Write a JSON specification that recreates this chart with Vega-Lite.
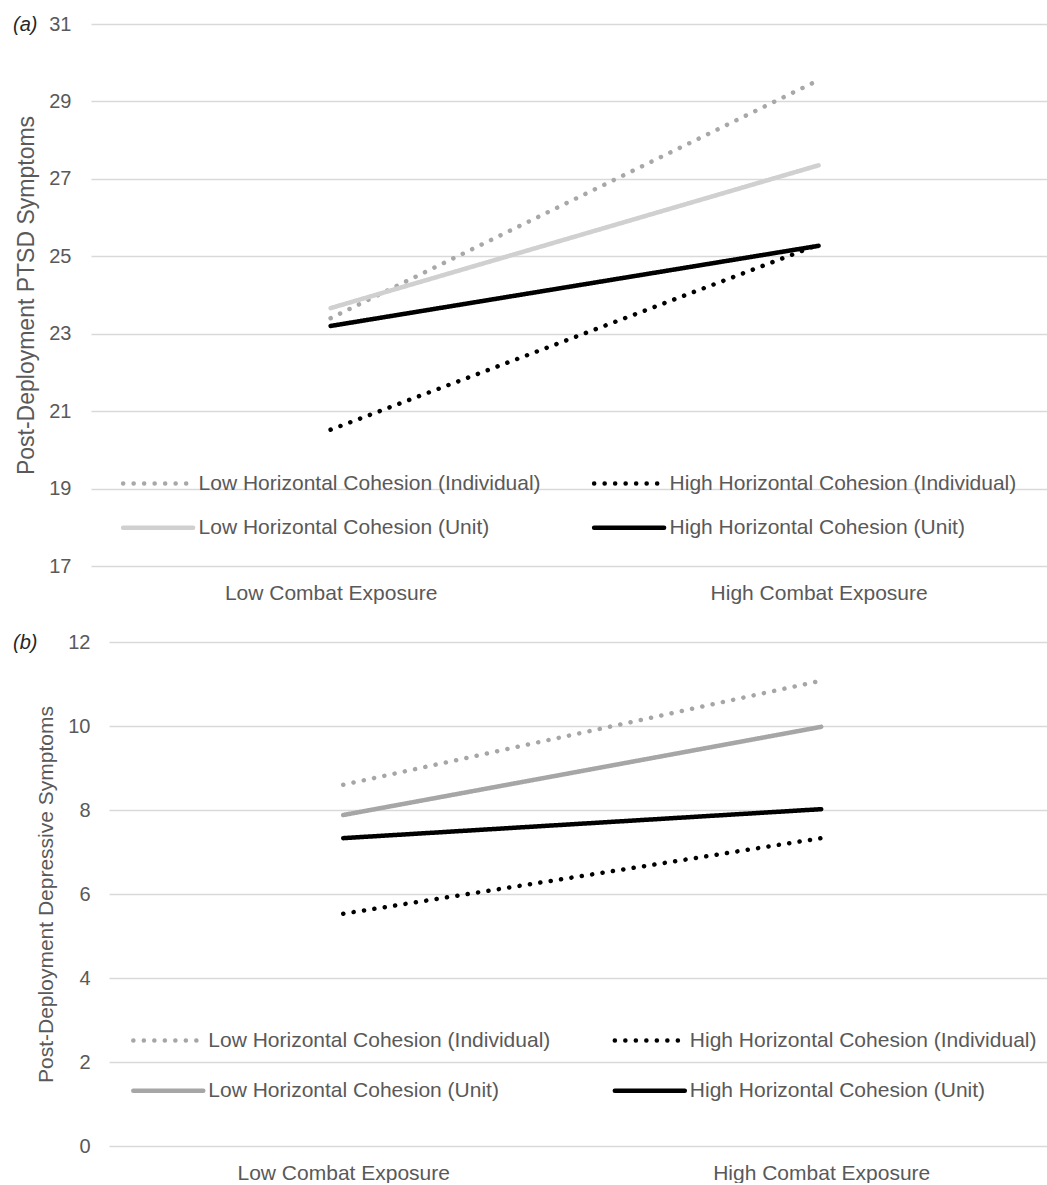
{
  "$schema": "https://vega.github.io/schema/vega-lite/v6.json",
  "padding": {"left": 12, "top": 14, "right": 0, "bottom": 0},
  "spacing": 29,
  "center": true,
  "config": {
    "view": {"stroke": null},
    "font": "Liberation Sans",
    "axis": {
      "domain": false,
      "ticks": false,
      "tickSize": 0,
      "labelColor": "#595959",
      "titleColor": "#595959",
      "labelFont": "Liberation Sans",
      "titleFont": "Liberation Sans",
      "titleFontWeight": "normal",
      "gridColor": "#d9d9d9",
      "gridWidth": 1.5
    }
  },
  "datasets": {
    "ptsd": [
      {"exposure": "Low Combat Exposure", "series": "Low Horizontal Cohesion (Individual)", "value": 23.4},
      {"exposure": "High Combat Exposure", "series": "Low Horizontal Cohesion (Individual)", "value": 29.55},
      {"exposure": "Low Combat Exposure", "series": "High Horizontal Cohesion (Individual)", "value": 20.52},
      {"exposure": "High Combat Exposure", "series": "High Horizontal Cohesion (Individual)", "value": 25.3},
      {"exposure": "Low Combat Exposure", "series": "Low Horizontal Cohesion (Unit)", "value": 23.66},
      {"exposure": "High Combat Exposure", "series": "Low Horizontal Cohesion (Unit)", "value": 27.35},
      {"exposure": "Low Combat Exposure", "series": "High Horizontal Cohesion (Unit)", "value": 23.2},
      {"exposure": "High Combat Exposure", "series": "High Horizontal Cohesion (Unit)", "value": 25.27}
    ],
    "dep": [
      {"exposure": "Low Combat Exposure", "series": "Low Horizontal Cohesion (Individual)", "value": 8.6},
      {"exposure": "High Combat Exposure", "series": "Low Horizontal Cohesion (Individual)", "value": 11.08},
      {"exposure": "Low Combat Exposure", "series": "High Horizontal Cohesion (Individual)", "value": 5.53},
      {"exposure": "High Combat Exposure", "series": "High Horizontal Cohesion (Individual)", "value": 7.33},
      {"exposure": "Low Combat Exposure", "series": "Low Horizontal Cohesion (Unit)", "value": 7.88},
      {"exposure": "High Combat Exposure", "series": "Low Horizontal Cohesion (Unit)", "value": 9.98},
      {"exposure": "Low Combat Exposure", "series": "High Horizontal Cohesion (Unit)", "value": 7.33},
      {"exposure": "High Combat Exposure", "series": "High Horizontal Cohesion (Unit)", "value": 8.02}
    ]
  },
  "vconcat": [
    {
      "width": 992,
      "height": 542,
      "data": {"name": "ptsd"},
      "encoding": {
        "x": {"field": "exposure", "type": "nominal", "sort": ["Low Combat Exposure", "High Combat Exposure"], "scale": {"type": "point", "padding": 0.5164, "align": 0.4754}, "axis": {"title": null, "labelAngle": 0, "labelFontSize": 21, "labelPadding": 16, "labelLimit": 600, "grid": false}},
        "color": {"field": "series", "type": "nominal",
          "scale": {"domain": ["Low Horizontal Cohesion (Individual)", "Low Horizontal Cohesion (Unit)", "High Horizontal Cohesion (Individual)", "High Horizontal Cohesion (Unit)"], "range": ["#a8a8a8", "#d0d0d0", "#000000", "#000000"]},
          "legend": {"orient": "none", "legendX": 54.6, "legendY": 446.75, "columns": 2, "title": null, "symbolType": "M-3.5,0H3.5", "symbolSize": 400, "symbolStrokeWidth": 4.5, "labelFontSize": 21, "labelColor": "#595959", "labelFont": "Liberation Sans", "labelOffset": 28, "columnPadding": 43, "rowPadding": 21.5, "labelLimit": 600, "padding": 0, "encode": {"symbols": {"update": {"strokeCap": {"value": "round"}}}}}},
        "strokeDash": {"field": "series", "type": "nominal",
          "scale": {"domain": ["Low Horizontal Cohesion (Individual)", "Low Horizontal Cohesion (Unit)", "High Horizontal Cohesion (Individual)", "High Horizontal Cohesion (Unit)"], "range": [[0.1, 10.4], [1, 0], [0.1, 10.4], [1, 0]]},
          "legend": {"orient": "none", "legendX": 54.6, "legendY": 446.75, "columns": 2, "title": null, "symbolType": "M-3.5,0H3.5", "symbolSize": 400, "symbolStrokeWidth": 4.5, "labelFontSize": 21, "labelColor": "#595959", "labelFont": "Liberation Sans", "labelOffset": 28, "columnPadding": 43, "rowPadding": 21.5, "labelLimit": 600, "padding": 0, "encode": {"symbols": {"update": {"strokeCap": {"value": "round"}}}}}}
      },
      "layer": [
        {
          "transform": [{"filter": "indexof(datum.series, 'Individual') >= 0"}],
          "mark": {"type": "line", "strokeWidth": 4.5, "strokeCap": "round"},
          "encoding": {
            "y": {"field": "value", "type": "quantitative", "scale": {"domain": [17, 31], "nice": false, "zero": false}, "axis": {"orient": "left", "values": [17, 19, 21, 23, 25, 27, 29, 31], "title": "Post-Deployment PTSD Symptoms", "titleFontSize": 23, "labelFontSize": 20, "labelPadding": 20, "titlePadding": 10, "grid": true}}
          }
        },
        {
          "transform": [{"filter": "indexof(datum.series, 'Unit') >= 0"}],
          "mark": {"type": "line", "strokeWidth": 4.5, "strokeCap": "round"},
          "encoding": {
            "y": {"field": "value", "type": "quantitative", "scale": {"domain": [17, 31], "nice": false, "zero": false}, "axis": {"orient": "left", "values": [31], "labelExpr": "'(a)'", "title": null, "grid": false, "labelFontSize": 20, "labelFontStyle": "italic", "labelColor": "#262626", "labelPadding": 54}}
          }
        }
      ],
      "resolve": {"scale": {"y": "independent"}, "axis": {"y": "independent"}}
    },
    {
      "width": 956,
      "height": 504,
      "data": {"name": "dep"},
      "encoding": {
        "x": {"field": "exposure", "type": "nominal", "sort": ["Low Combat Exposure", "High Combat Exposure"], "scale": {"type": "point", "padding": 0.5, "align": 0.49}, "axis": {"title": null, "labelAngle": 0, "labelFontSize": 21, "labelPadding": 16, "labelLimit": 600, "grid": false}},
        "color": {"field": "series", "type": "nominal",
          "scale": {"domain": ["Low Horizontal Cohesion (Individual)", "Low Horizontal Cohesion (Unit)", "High Horizontal Cohesion (Individual)", "High Horizontal Cohesion (Unit)"], "range": ["#a6a6a6", "#a6a6a6", "#000000", "#000000"]},
          "legend": {"orient": "none", "legendX": 46.8, "legendY": 385.75, "columns": 2, "title": null, "symbolType": "M-3.5,0H3.5", "symbolSize": 400, "symbolStrokeWidth": 4.5, "labelFontSize": 21, "labelColor": "#595959", "labelFont": "Liberation Sans", "labelOffset": 27.5, "columnPadding": 54.5, "rowPadding": 27.5, "labelLimit": 600, "padding": 0, "encode": {"symbols": {"update": {"strokeCap": {"value": "round"}}}}}},
        "strokeDash": {"field": "series", "type": "nominal",
          "scale": {"domain": ["Low Horizontal Cohesion (Individual)", "Low Horizontal Cohesion (Unit)", "High Horizontal Cohesion (Individual)", "High Horizontal Cohesion (Unit)"], "range": [[0.1, 10.4], [1, 0], [0.1, 10.4], [1, 0]]},
          "legend": {"orient": "none", "legendX": 46.8, "legendY": 385.75, "columns": 2, "title": null, "symbolType": "M-3.5,0H3.5", "symbolSize": 400, "symbolStrokeWidth": 4.5, "labelFontSize": 21, "labelColor": "#595959", "labelFont": "Liberation Sans", "labelOffset": 27.5, "columnPadding": 54.5, "rowPadding": 27.5, "labelLimit": 600, "padding": 0, "encode": {"symbols": {"update": {"strokeCap": {"value": "round"}}}}}}
      },
      "layer": [
        {
          "transform": [{"filter": "indexof(datum.series, 'Individual') >= 0"}],
          "mark": {"type": "line", "strokeWidth": 4.5, "strokeCap": "round"},
          "encoding": {
            "y": {"field": "value", "type": "quantitative", "scale": {"domain": [0, 12], "nice": false}, "axis": {"orient": "left", "values": [0, 2, 4, 6, 8, 10, 12], "title": "Post-Deployment Depressive Symptoms", "titleFontSize": 21, "labelFontSize": 20, "labelPadding": 19, "titlePadding": 11, "grid": true}}
          }
        },
        {
          "transform": [{"filter": "indexof(datum.series, 'Unit') >= 0"}],
          "mark": {"type": "line", "strokeWidth": 4.5, "strokeCap": "round"},
          "encoding": {
            "y": {"field": "value", "type": "quantitative", "scale": {"domain": [0, 12], "nice": false}, "axis": {"orient": "left", "values": [12], "labelExpr": "'(b)'", "title": null, "grid": false, "labelFontSize": 20, "labelFontStyle": "italic", "labelColor": "#262626", "labelPadding": 72}}
          }
        }
      ],
      "resolve": {"scale": {"y": "independent"}, "axis": {"y": "independent"}}
    }
  ],
  "resolve": {
    "scale": {"color": "independent", "strokeDash": "independent", "x": "independent", "y": "independent"},
    "legend": {"color": "independent", "strokeDash": "independent"}
  }
}
